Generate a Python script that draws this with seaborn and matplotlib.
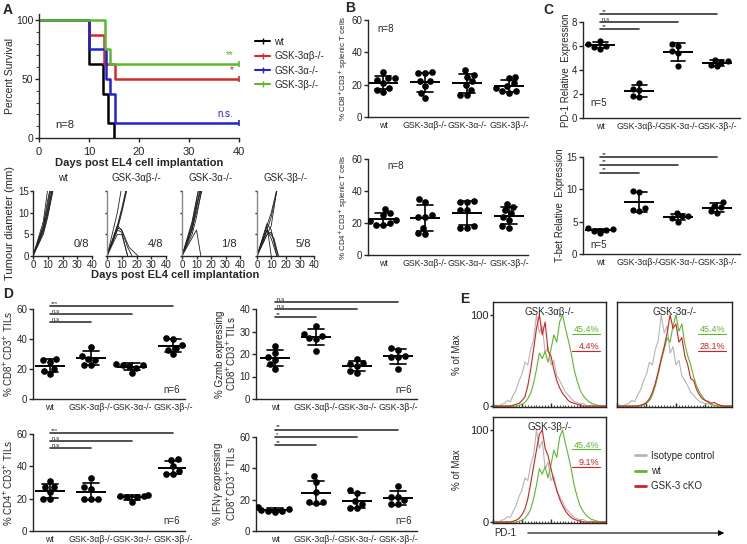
import numpy as np
import pandas as pd
import matplotlib
matplotlib.use('Agg')
import matplotlib.pyplot as plt
from matplotlib.lines import Line2D
from matplotlib.ticker import MultipleLocator
import seaborn as sns

W, H = 747, 544

GROUPS = ['wt', 'GSK-3αβ-/-', 'GSK-3α-/-', 'GSK-3β-/-']
GROUP_COLORS = ['black', '#d42a2a', '#2323d2', '#5cb82e']

# A: Kaplan-Meier steps
SURV_DAYS = [[0, 10, 12.8, 13.8, 15],
             [0, 10, 12.9, 15.2, 40],
             [0, 10, 13.4, 14.2, 15.1, 40],
             [0, 13.2, 14.2, 40]]
SURV_PCT = [[100, 62.5, 37.5, 12.5, 0],
            [100, 87.5, 62.5, 50, 50],
            [100, 75, 50, 37.5, 12.5, 12.5],
            [100, 75, 62.5, 62.5]]
SURV_SIG = ['', '*', 'n.s.', '**']

# A: tumour growth, one (days, mm) pair per mouse
TUMOUR_WT = [([0, 7, 10, 14], [0, 6, 11, 19]), ([0, 7, 10, 14], [0, 7, 12, 20]),
             ([0, 7, 10, 14], [0, 5, 9, 16]), ([0, 7, 10, 14], [0, 6, 10, 17]),
             ([0, 7, 10], [0, 8, 15.5]), ([0, 7, 10, 14], [0, 5.5, 9.5, 16]),
             ([0, 7, 10, 14], [0, 7, 13, 19]), ([0, 7, 10, 14], [0, 6.5, 10.5, 17])]
TUMOUR_AB = [([0, 7, 10], [0, 10, 16]), ([0, 7, 10, 14], [0, 7, 11, 17]),
             ([0, 7, 10, 14], [0, 6.5, 10.5, 16.5]), ([0, 7, 10, 14], [0, 6, 10, 16]),
             ([0, 7, 10, 14, 17], [0, 7, 6, 2, 0]), ([0, 7, 10, 14], [0, 6, 5.5, 0]),
             ([0, 7, 10, 15, 21], [0, 6.5, 6, 2, 0]), ([0, 7, 10, 14], [0, 5, 5, 0])]
TUMOUR_A = [([0, 7, 10, 14], [0, 6, 11, 17]), ([0, 7, 10, 13], [0, 8, 13, 18]),
            ([0, 7, 10, 14], [0, 7, 12, 16]), ([0, 7, 10, 14], [0, 6.5, 10, 15.5]),
            ([0, 7, 10, 14], [0, 5, 9, 16]), ([0, 7, 10, 14], [0, 7.5, 13, 19]),
            ([0, 7, 10, 14], [0, 6, 11.5, 18]), ([0, 10, 13], [0, 6, 0])]
TUMOUR_B = [([0, 7, 10, 14], [0, 7, 10, 15.5]), ([0, 7, 10, 14], [0, 6, 9, 15]),
            ([0, 10, 14], [0, 7, 15.5]), ([0, 7, 10], [0, 7, 0]),
            ([0, 7, 10, 14], [0, 6, 4, 0]), ([0, 7, 10, 15], [0, 5, 5.5, 0]),
            ([0, 7, 12, 15], [0, 6, 4, 0]), ([0, 7, 10, 14], [0, 7.5, 6, 0])]
TUMOUR_FREE = ['0/8', '4/8', '1/8', '5/8']

# B: splenic T cells (%)
B_CD8 = [[28, 24, 24, 23, 21, 18, 17, 15.5], [28, 27, 27, 22, 22, 19, 15, 11.5],
         [29, 26, 25, 22, 20, 17, 13.5, 13.5], [25, 24, 21, 19, 18, 16, 16, 15]]
B_CD4 = [[29, 26, 25, 22, 21, 20, 19, 19], [35, 33, 25, 24, 24, 17, 14, 13],
         [34, 33, 33, 28, 28, 18, 17, 17], [32, 30, 28, 26, 24, 22, 18, 17]]

# C: relative expression
C_PD1 = [[6.4, 6.2, 6.0, 5.9, 5.75], [2.9, 2.45, 2.3, 1.8, 1.75],
         [6.2, 6.0, 5.6, 5.4, 4.35], [4.85, 4.75, 4.7, 4.4, 4.3]]
C_TBET = [[4.0, 3.8, 3.7, 3.5, 3.3], [9.7, 9.6, 7.1, 6.8, 6.7],
          [6.4, 5.9, 5.8, 5.5, 5.0], [8.1, 7.4, 7.2, 6.6, 6.4]]

# D: TILs (%)
D_CD8 = [[27, 26, 25, 20, 18.5, 16.5], [35, 29, 27, 26, 23, 22.5],
         [23.5, 23, 23, 22, 21, 17.5], [41, 40, 36, 34, 33, 30]]
D_GZMB = [[23.5, 20.5, 18.5, 17.5, 15.5, 13.5], [32.5, 29, 28, 27, 26.5, 21.5],
          [18, 16, 15.5, 14.5, 12.5, 11.5], [22.5, 22, 19, 18.5, 18.5, 13.3]]
D_CD4 = [[31, 27.5, 27, 24, 20, 19.5], [32.5, 27, 26, 20, 20, 19.5],
         [22, 21.5, 21.5, 21, 21, 18], [44.5, 44, 40, 37, 35, 35]]
D_IFNG = [[15.5, 14, 13.5, 13, 12.5, 12], [35, 31, 25, 18.5, 18.5, 18],
          [26, 24.5, 19, 17.5, 15, 14.5], [29, 22, 21.5, 19.5, 17.5, 17]]

# significance bars: (group index, level, label)
SIG_PD1 = [(3, 8.63, '**'), (2, 8.0, 'n.s'), (1, 7.39, '**')]
SIG_TBET = [(3, 15.0, '**'), (2, 13.8, '**'), (1, 12.6, '**')]
SIG_CD8 = [(3, 62.0, '***'), (2, 56.7, 'n.s'), (1, 51.3, 'n.s')]
SIG_GZMB = [(3, 43.1, 'n.s'), (2, 40.0, 'n.s'), (1, 36.4, '**')]
SIG_CD4 = [(3, 60.6, '***'), (2, 55.7, 'n.s'), (1, 51.2, 'n.s')]
SIG_IFNG = [(3, 64.5, '**'), (2, 60.0, '*'), (1, 54.9, '**')]

# E: PD-1 histograms (% of max per channel)
HIST_ISO = [0, 1, 0, 2, 3, 6, 5, 12, 18, 28, 35, 48, 45, 62, 72, 100, 80, 88, 58, 65,
            45, 50, 33, 28, 22, 15, 12, 8, 5, 4, 2, 3, 1, 0, 1, 0, 0, 0, 0, 0]
HIST_WT1 = [0, 0, 0, 0, 0, 0, 0, 0, 0, 1, 2, 4, 8, 14, 25, 40, 58, 52, 60, 48,
            62, 78, 70, 92, 100, 85, 72, 58, 40, 28, 18, 12, 8, 5, 3, 2, 1, 0, 0, 0]
HIST_WT2 = [0, 0, 0, 0, 0, 0, 0, 0, 0, 1, 3, 6, 12, 22, 35, 50, 62, 75, 70, 88,
            100, 82, 90, 68, 55, 45, 32, 22, 15, 10, 6, 4, 2, 1, 0, 0, 0, 0, 0, 0]
HIST_KO_AB = [0, 0, 0, 0, 0, 0, 0, 1, 2, 3, 6, 10, 22, 40, 62, 85, 100, 78, 92, 60,
              55, 40, 28, 20, 14, 10, 6, 4, 3, 2, 1, 0, 0, 0, 0, 0, 0, 0, 0, 0]
HIST_KO_A = [0, 0, 0, 0, 0, 0, 0, 0, 1, 2, 4, 8, 15, 25, 38, 52, 65, 80, 100, 85,
             90, 70, 75, 55, 45, 30, 28, 18, 12, 8, 6, 5, 3, 4, 2, 1, 0, 0, 0, 0]
HIST_KO_B = [0, 0, 0, 0, 0, 0, 0, 1, 2, 4, 8, 14, 25, 42, 60, 78, 95, 100, 80, 72,
             58, 45, 35, 25, 18, 12, 8, 5, 3, 2, 1, 0, 0, 0, 0, 0, 0, 0, 0, 0]
E_TITLES = ['GSK-3αβ-/-', 'GSK-3α-/-', 'GSK-3β-/-']
E_PCT_WT = ['45.4%', '45.4%', '45.4%']
E_PCT_KO = ['4.4%', '28.1%', '9.1%']

sns.set_style('ticks')
plt.rcParams['font.family'] = ['Liberation Sans', 'DejaVu Sans']
plt.rcParams['axes.linewidth'] = 1.0
plt.rcParams['xtick.major.width'] = 1.0
plt.rcParams['ytick.major.width'] = 1.0

fig = plt.figure(figsize=(W / 100, H / 100), dpi=100)


def add_ax(left, top, right, bottom):
    return fig.add_axes([left / W, 1 - bottom / H, (right - left) / W, (bottom - top) / H])


# ---------------- A: survival ----------------
ax = add_ax(39, 14, 239, 138)
for days, pct, col, sig in zip(SURV_DAYS, SURV_PCT, GROUP_COLORS, SURV_SIG):
    sns.lineplot(x=days, y=pct, drawstyle='steps-post', color=col, lw=1.8,
                 estimator=None, sort=False, ax=ax)
    if days[-1] == 40:
        ax.plot(days[-1], pct[-1], marker='|', ms=5, mew=1.2, color=col, clip_on=False)
        ax.annotate(sig, (days[-1], pct[-1]), xytext=(-4, 3), textcoords='offset points',
                    ha='right', va='bottom', fontsize=7, color=col)
ax.set_xlim(0, 40)
ax.set_ylim(0, 105)
ax.set_xticks([0, 10, 20, 30, 40])
ax.set_yticks([0, 50, 100])
ax.yaxis.set_minor_locator(MultipleLocator(10))
ax.tick_params(axis='x', labelsize=8, length=3)
ax.tick_params(axis='y', labelsize=7.5, length=3, pad=1)
ax.tick_params(which='minor', length=2)
ax.set_xlabel('Days post EL4 cell implantation', fontsize=8, weight='bold', labelpad=1)
ax.set_ylabel('Percent Survival', fontsize=7.5, labelpad=1)
ax.text(0.08, 0.08, 'n=8', transform=ax.transAxes, fontsize=8)
sns.despine(ax=ax)
handles = [Line2D([], [], color=c, lw=1.5, marker='|', ms=4) for c in GROUP_COLORS]
fig.legend(handles, GROUPS, loc='upper left', bbox_to_anchor=(246 / W, 1 - 28 / H),
           frameon=False, fontsize=7, handlelength=1.6, labelspacing=0.45,
           handletextpad=0.4)

# ---------------- A: tumour growth ----------------
tum_pos = [(33, 92), (107, 166), (182, 240), (257, 314)]
for i, (mice, (l, r)) in enumerate(zip([TUMOUR_WT, TUMOUR_AB, TUMOUR_A, TUMOUR_B], tum_pos)):
    ax = add_ax(l, 191, r, 256)
    rows = []
    for m, (days, mm) in enumerate(mice):
        for d, v in zip(days, mm):
            rows.append({'mouse': m, 'day': d, 'mm': v})
    df = pd.DataFrame(rows)
    sns.lineplot(data=df, x='day', y='mm', units='mouse', estimator=None, sort=False,
                 color='#222222', lw=0.6, ax=ax)
    ax.set_xlim(0, 40)
    ax.set_ylim(0, 15)
    ax.set_xticks([0, 10, 20, 30, 40])
    ax.set_yticks([0, 5, 10, 15])
    ax.tick_params(labelsize=7, length=2, pad=1)
    if i > 0:
        ax.set_yticklabels([])
        ax.tick_params(axis='y', length=1.5)
        ax.spines['left'].set_color('#888888')
        ax.set_ylabel('')
    else:
        ax.set_ylabel('Tumour diameter (mm)', fontsize=8, labelpad=2)
    ax.set_xlabel('')
    ax.set_title(GROUPS[i], fontsize=7, pad=7)
    ax.text(0.95, 0.14, TUMOUR_FREE[i], transform=ax.transAxes, ha='right', fontsize=8)
    sns.despine(ax=ax)
fig.text(175 / W, 1 - 275 / H, 'Days post EL4 cell implantation', ha='center',
         va='center', fontsize=8, weight='bold')


# ---------------- dot plots ----------------
def dot_panel(ax, values, ylim, yticks, ylabel, xlim, sig=None, ntext='', npos=(0.1, 0.85),
              nha='left', size=4.8, lab_size=7):
    df = pd.DataFrame([{'group': g, 'value': v} for g, vals in zip(GROUPS, values) for v in vals])
    sns.swarmplot(data=df, x='group', y='value', order=GROUPS, color='black', size=size, ax=ax)
    sns.pointplot(data=df, x='group', y='value', order=GROUPS, errorbar='sd', capsize=0.38,
                  color='black', marker='_', markersize=22, markeredgewidth=1.4,
                  linestyle='none', err_kws={'linewidth': 1.2}, ax=ax)
    ax.set_xlim(*xlim)
    ax.set_ylim(*ylim)
    ax.set_yticks(yticks)
    ax.set_xlabel('')
    ax.set_ylabel(ylabel, fontsize=lab_size, labelpad=1, linespacing=1.0)
    ax.tick_params(axis='y', labelsize=7, length=3, pad=1)
    ax.tick_params(axis='x', labelsize=6.3, length=0, pad=3)
    if sig:
        for k, y, lab in sig:
            ax.plot([0, k], [y, y], color='#333333', lw=1.2, clip_on=False)
            ax.annotate(lab, (0, y), xytext=(1, 0.3), textcoords='offset points',
                        fontsize=4.5, ha='left', va='bottom', annotation_clip=False)
    if ntext:
        ax.text(npos[0], npos[1], ntext, transform=ax.transAxes, ha=nha, fontsize=7)
    sns.despine(ax=ax)


ax = add_ax(368, 20, 528, 117)
dot_panel(ax, B_CD8, (0, 60), [0, 20, 40, 60],
          '% CD8$^{+}$CD3$^{+}$ splenic T cells', (-0.36, 3.45), ntext='n=8',
          npos=(0.06, 0.88), lab_size=5.8)
ax = add_ax(368, 159, 528, 255)
dot_panel(ax, B_CD4, (0, 60), [0, 20, 40, 60],
          '% CD4$^{+}$CD3$^{+}$ splenic T cells', (-0.36, 3.45), ntext='n=8',
          npos=(0.12, 0.9), lab_size=5.8)

ax = add_ax(583, 22, 740, 118)
dot_panel(ax, C_PD1, (0, 8), [0, 2, 4, 6, 8], 'PD-1 Relative  Expression', (-0.44, 3.59),
          sig=SIG_PD1, ntext='n=5', npos=(0.05, 0.12), size=4.5)
ax = add_ax(583, 157, 740, 254)
dot_panel(ax, C_TBET, (0, 15), [0, 5, 10, 15], 'T-bet Relative  Expression', (-0.44, 3.59),
          sig=SIG_TBET, ntext='n=5', npos=(0.05, 0.06), size=4.5)

ax = add_ax(33, 309, 185, 399)
dot_panel(ax, D_CD8, (0, 60), [0, 20, 40, 60], '% CD8$^{+}$CD3$^{+}$ TILs', (-0.41, 3.29),
          sig=SIG_CD8, ntext='n=6', npos=(0.97, 0.07), nha='right')
ax = add_ax(256, 309, 417, 399)
dot_panel(ax, D_GZMB, (0, 40), [0, 10, 20, 30, 40],
          '% Gzmb expressing\nCD8$^{+}$CD3$^{+}$ TILs', (-0.46, 3.46),
          sig=SIG_GZMB, ntext='n=6', npos=(0.97, 0.07), nha='right')
ax = add_ax(33, 434, 185, 531)
dot_panel(ax, D_CD4, (0, 60), [0, 20, 40, 60], '% CD4$^{+}$CD3$^{+}$ TILs', (-0.41, 3.29),
          sig=SIG_CD4, ntext='n=6', npos=(0.97, 0.07), nha='right')
ax = add_ax(256, 437, 417, 531)
dot_panel(ax, D_IFNG, (0, 60), [0, 20, 40, 60],
          '% IFN$\\gamma$ expressing\nCD8$^{+}$CD3$^{+}$ TILs', (-0.46, 3.46),
          sig=SIG_IFNG, ntext='n=6', npos=(0.97, 0.07), nha='right')

# ---------------- E: histograms ----------------
ISO_C, WT_C, KO_C = '#b5b5b5', '#5cb82e', '#d42020'
e_pos = [(493, 302, 606, 407), (617, 302, 732, 407), (493, 417, 606, 523)]
ko_hists = [HIST_KO_AB, HIST_KO_A, HIST_KO_B]
wt_hists = [HIST_WT1, HIST_WT2, HIST_WT1]
for i, (l, t, r, b) in enumerate(e_pos):
    ax = add_ax(l, t, r, b)
    bins = list(range(len(HIST_ISO)))
    sns.lineplot(x=bins, y=HIST_ISO, color=ISO_C, lw=0.8, ax=ax)
    sns.lineplot(x=bins, y=wt_hists[i], color=WT_C, lw=0.8, ax=ax)
    sns.lineplot(x=bins, y=ko_hists[i], color=KO_C, lw=0.8, ax=ax)
    ax.set_xlim(0, 39)
    ax.set_ylim(-1, 114)
    ax.xaxis.set_major_locator(MultipleLocator(10))
    ax.xaxis.set_minor_locator(MultipleLocator(1))
    ax.set_xticklabels([])
    ax.tick_params(axis='x', which='major', length=3, direction='in')
    ax.tick_params(axis='x', which='minor', length=1.5, direction='in')
    if i == 1:
        ax.set_yticks([])
        ax.set_ylabel('')
    else:
        ax.set_yticks([0, 100])
        ax.tick_params(axis='y', labelsize=8, length=2, pad=1)
        ax.set_ylabel('% of Max', fontsize=7, labelpad=6)
    ax.text(0.5, 0.95, E_TITLES[i], transform=ax.transAxes, ha='center', va='top', fontsize=7)
    ax.text(0.94, 0.71, E_PCT_WT[i], transform=ax.transAxes, ha='right', fontsize=6.5, color=WT_C)
    ax.plot([0.70, 0.95], [0.695, 0.695], transform=ax.transAxes, color=WT_C, lw=0.8)
    ax.text(0.94, 0.55, E_PCT_KO[i], transform=ax.transAxes, ha='right', fontsize=6.5, color=KO_C)
    ax.plot([0.70, 0.95], [0.533, 0.533], transform=ax.transAxes, color=KO_C, lw=0.8)
    for s in ax.spines.values():
        s.set_linewidth(1.0)

fig.text(494 / W, 1 - 533 / H, 'PD-1', fontsize=7, va='center')
fig.add_artist(matplotlib.patches.FancyArrowPatch((525 / W, 1 - 533 / H), (727 / W, 1 - 533 / H),
                                                  transform=fig.transFigure, arrowstyle='-|>',
                                                  mutation_scale=8, lw=0.8, color='black'))
e_handles = [Line2D([], [], color=c, lw=2) for c in (ISO_C, WT_C, KO_C)]
fig.legend(e_handles, ['Isotype control', 'wt', 'GSK-3 cKO'], loc='upper left',
           bbox_to_anchor=(626 / W, 1 - 442 / H), frameon=False, fontsize=7,
           handlelength=1.2, labelspacing=0.55, handletextpad=0.5)

# panel letters
for lab, x, y in [('A', 3, 3), ('B', 345, 1), ('C', 543, 3), ('D', 3, 287), ('E', 460, 292)]:
    fig.text(x / W, 1 - y / H, lab, fontsize=10, weight='bold', va='top')

fig.savefig('out.png', dpi=100)
